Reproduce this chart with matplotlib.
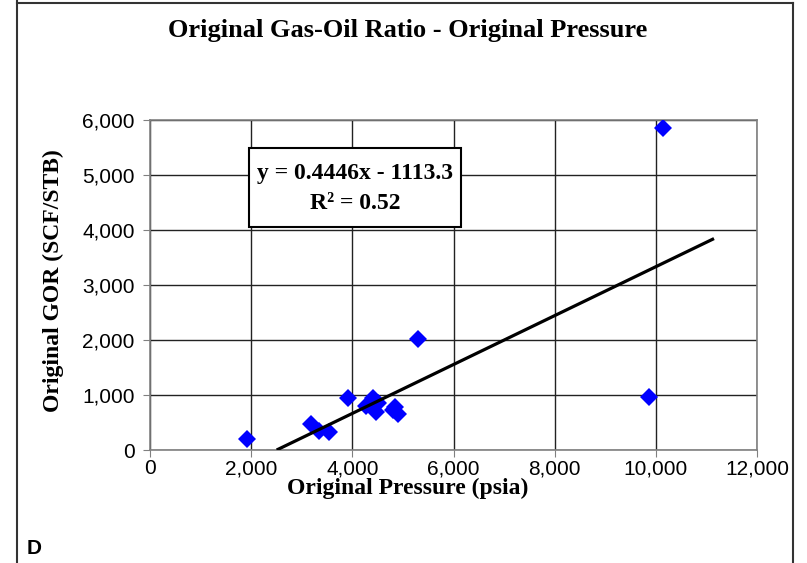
import matplotlib
matplotlib.use("Agg")
import matplotlib.pyplot as plt
import matplotlib.ticker as mticker
from matplotlib.patches import Rectangle
from matplotlib.lines import Line2D

# data
pressure = [1920, 3180, 3340, 3540, 3920, 4280, 4410, 4510, 4460, 4840, 4900, 4810, 5300, 9870, 10150]
gor = [200, 480, 340, 330, 950, 800, 940, 850, 690, 790, 660, 730, 2010, 960, 5850]

# trendline reported on the chart
slope = 0.4446
intercept = -1113.3
r_squared = 0.52
trend_x = [-intercept / slope, 11150]

x_ticks = [0, 2000, 4000, 6000, 8000, 10000, 12000]
y_ticks = [0, 1000, 2000, 3000, 4000, 5000, 6000]

serif = "Liberation Serif"
sans = "Liberation Sans"

fig = plt.figure(figsize=(8.07, 5.63), dpi=100)
ax = fig.add_axes([150 / 807, 1 - 450 / 563, 607 / 807, 330 / 563])

ax.set_xlim(0, 12000)
ax.set_ylim(0, 6000)
ax.set_xticks(x_ticks)
ax.set_yticks(y_ticks)
fmt = mticker.FuncFormatter(lambda v, p: f"{int(v):,}")
ax.xaxis.set_major_formatter(fmt)
ax.yaxis.set_major_formatter(fmt)
for lab in ax.get_xticklabels() + ax.get_yticklabels():
    lab.set_fontfamily(sans)
    lab.set_fontsize(15)
ax.tick_params(direction="out", length=5, color="#808080")
ax.tick_params(axis="x", pad=1.5)
ax.tick_params(axis="y", pad=6)
ax.grid(True, color="#222222", linewidth=1)
ax.set_axisbelow(True)
for s in ax.spines.values():
    s.set_color("#808080")
    s.set_linewidth(1.2)

ax.plot(pressure, gor, "D", color="#0000ff", markersize=9.5, markeredgewidth=0, zorder=3)
trend_y = [slope * x + intercept for x in trend_x]
ax.plot(trend_x, trend_y, color="black", linewidth=2.3, zorder=4, solid_capstyle="butt")

# equation box
ax.add_patch(Rectangle((0.163, 0.676), 0.349, 0.239, transform=ax.transAxes,
                       facecolor="white", edgecolor="black", linewidth=1.5, zorder=5))
ax.text(0.338, 0.839, f"y = {slope}x - {-intercept}", transform=ax.transAxes,
        ha="center", va="center", fontfamily=serif, fontweight="bold", fontsize=17, zorder=6)
ax.text(0.338, 0.748, f"R\u00b2 = {r_squared}", transform=ax.transAxes,
        ha="center", va="center", fontfamily=serif, fontweight="bold", fontsize=17, zorder=6)

fig.text(408 / 807, 1 - 31 / 563, "Original Gas-Oil Ratio - Original Pressure",
         ha="center", va="center", fontfamily=serif, fontweight="bold", fontsize=19)
fig.text(408 / 807, 1 - 488 / 563, "Original Pressure (psia)",
         ha="center", va="center", fontfamily=serif, fontweight="bold", fontsize=17)
fig.text(53 / 807, 1 - 281 / 563, "Original GOR (SCF/STB)", rotation=90,
         ha="center", va="center", fontfamily=serif, fontweight="bold", fontsize=17)
fig.text(27 / 807, 1 - 549 / 563, "D", ha="left", va="center",
         fontfamily=sans, fontweight="bold", fontsize=15)

# outer chart border (left, top, right)
for xs, ys in [([17, 17], [0, 563]), ([17, 793], [3, 3]), ([793, 793], [3, 563])]:
    fig.add_artist(Line2D([x / 807 for x in xs], [1 - y / 563 for y in ys],
                          transform=fig.transFigure, color="#333333", linewidth=1.5))

fig.savefig("out.png", dpi=100)
